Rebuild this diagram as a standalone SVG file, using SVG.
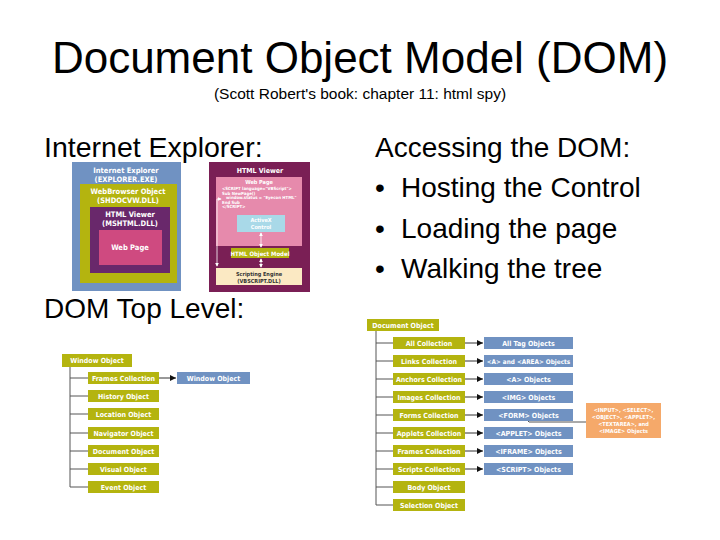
<svg xmlns="http://www.w3.org/2000/svg" width="720" height="540" viewBox="0 0 720 540">
<defs>
<style>
.t{font-family:"Liberation Sans",Arial,sans-serif;fill:#000}
.b{font-family:"DejaVu Sans Condensed","Liberation Sans Narrow","Liberation Sans",sans-serif;font-weight:bold;fill:#fff;text-anchor:middle}
.yg{fill:#b4b40f}
.bl{fill:#7092c2}
.ln{stroke:#555;stroke-width:1;fill:none}
.arr{stroke:#333;stroke-width:1;fill:none;marker-end:url(#ah)}
.wl{stroke:#fff;stroke-width:0.8;fill:none}
</style>
<marker id="ah" viewBox="0 0 6 6" refX="6" refY="3" markerWidth="6" markerHeight="6" markerUnits="userSpaceOnUse" orient="auto"><path d="M0,0 L6,3 L0,6 z" fill="#111"/></marker>
<marker id="wa" viewBox="0 0 6 6" refX="5" refY="3" markerWidth="4" markerHeight="4" markerUnits="userSpaceOnUse" orient="auto-start-reverse"><path d="M0,0 L6,3 L0,6 z" fill="#fff"/></marker>
</defs>
<rect width="720" height="540" fill="#fff"/>

<g id="titles">
<text class="t" x="360" y="73" font-size="44" text-anchor="middle">Document Object Model (DOM)</text>
<text class="t" x="360" y="99" font-size="15.5" text-anchor="middle">(Scott Robert's book: chapter 11: html spy)</text>
<text class="t" x="44" y="157" font-size="28.5">Internet Explorer:</text>
<text class="t" x="44" y="318" font-size="28">DOM Top Level:</text>
<text class="t" x="375" y="157" font-size="28">Accessing the DOM:</text>
<text class="t" x="375" y="197" font-size="28">•</text><text class="t" x="401" y="197" font-size="28">Hosting the Control</text>
<text class="t" x="375" y="238" font-size="28">•</text><text class="t" x="401" y="238" font-size="28">Loading the page</text>
<text class="t" x="375" y="278" font-size="28">•</text><text class="t" x="401" y="278" font-size="28">Walking the tree</text>
</g>

<g id="ie-nested">
<rect x="72" y="162" width="109" height="129" fill="#7092c2"/>
<text class="b" x="126" y="173" font-size="7.5">Internet Explorer</text>
<text class="b" x="126" y="182" font-size="7.5">(EXPLORER.EXE)</text>
<rect x="80" y="184" width="97" height="99" fill="#b4b40f"/>
<text class="b" x="128" y="194" font-size="7.5">WebBrowser Object</text>
<text class="b" x="128" y="203" font-size="7.5">(SHDOCVW.DLL)</text>
<rect x="90" y="207" width="80" height="66" fill="#69286b"/>
<text class="b" x="130" y="217" font-size="7.5">HTML Viewer</text>
<text class="b" x="130" y="226" font-size="7.5">(MSHTML.DLL)</text>
<rect x="99" y="230" width="63" height="35" fill="#cf4a80"/>
<text class="b" x="130" y="250" font-size="7.5">Web Page</text>
</g>

<g id="ie-viewer">
<rect x="209" y="162" width="101" height="130" fill="#7a1f55"/>
<text class="b" x="260" y="173" font-size="7">HTML Viewer</text>
<rect x="216" y="177" width="86" height="69" fill="#e68aac"/>
<text class="b" x="259" y="184" font-size="5.5">Web Page</text>
<g font-family="'DejaVu Sans Condensed','Liberation Sans',sans-serif" font-weight="bold" font-size="4.3" fill="#fff">
<text x="222" y="190">&lt;SCRIPT language="VBScript"&gt;</text>
<text x="222" y="194.5">Sub NewPage()</text>
<text x="226" y="199">window.status = "Eyecon HTML"</text>
<text x="222" y="203.5">End Sub</text>
<text x="222" y="208">&lt;/SCRIPT&gt;</text>
</g>
<rect x="237" y="215" width="48" height="17" fill="#a9d9e8"/>
<text class="b" x="261" y="222" font-size="5.5">ActiveX</text>
<text class="b" x="261" y="229" font-size="5.5">Control</text>
<rect x="231" y="248" width="58" height="10" fill="#b4b40f"/>
<text class="b" x="260" y="255.5" font-size="6">HTML Object Model</text>
<rect x="216" y="268" width="86" height="17" fill="#fbe9c3"/>
<text class="b" x="259" y="275.5" font-size="5.5" style="fill:#333">Scripting Engine</text>
<text class="b" x="259" y="282.5" font-size="5.5" style="fill:#333">(VBSCRIPT.DLL)</text>
<line class="wl" x1="261" y1="233" x2="261" y2="247" marker-start="url(#wa)" marker-end="url(#wa)"/>
<line class="wl" x1="261" y1="259" x2="261" y2="267" marker-start="url(#wa)" marker-end="url(#wa)"/>
<path class="wl" d="M221,199 L217,199 L217,266" marker-start="url(#wa)" marker-end="url(#wa)"/>
</g>

<g id="connectors">
<line class="ln" x1="70" y1="367" x2="70" y2="487"/>
<path class="ln" d="M70,378H88 M70,396H88 M70,414H88 M70,433H88 M70,451H88 M70,469H88 M70,487H88"/>
<line class="arr" x1="159" y1="378" x2="176" y2="378"/>
<line class="ln" x1="376" y1="331" x2="376" y2="505"/>
<path class="ln" d="M376,343H393 M376,361H393 M376,379H393 M376,397H393 M376,415H393 M376,433H393 M376,451H393 M376,469H393 M376,487H393 M376,505H393"/>
<line class="arr" x1="465" y1="343" x2="483" y2="343"/>
<line class="arr" x1="465" y1="361" x2="483" y2="361"/>
<line class="arr" x1="465" y1="379" x2="483" y2="379"/>
<line class="arr" x1="465" y1="397" x2="483" y2="397"/>
<line class="arr" x1="465" y1="415" x2="483" y2="415"/>
<line class="arr" x1="465" y1="433" x2="483" y2="433"/>
<line class="arr" x1="465" y1="451" x2="483" y2="451"/>
<line class="arr" x1="465" y1="469" x2="483" y2="469"/>
<polyline class="ln" points="527,420 529,422 586,422"/>
</g>

<g id="left-tree" font-size="7">
<g id="window-object"><rect class="yg" x="62" y="354" width="70" height="13"/><text class="b" x="97" y="363">Window Object</text></g>
<g id="frames-collection"><rect class="yg" x="88" y="372" width="71" height="12"/><text class="b" x="123.5" y="380.5">Frames Collection</text></g>
<g id="history-object"><rect class="yg" x="88" y="390" width="71" height="12"/><text class="b" x="123.5" y="398.5">History Object</text></g>
<g id="location-object"><rect class="yg" x="88" y="408" width="71" height="12"/><text class="b" x="123.5" y="416.5">Location Object</text></g>
<g id="navigator-object"><rect class="yg" x="88" y="427" width="71" height="12"/><text class="b" x="123.5" y="435.5">Navigator Object</text></g>
<g id="document-object-l"><rect class="yg" x="88" y="445" width="71" height="12"/><text class="b" x="123.5" y="453.5">Document Object</text></g>
<g id="visual-object"><rect class="yg" x="88" y="463" width="71" height="12"/><text class="b" x="123.5" y="471.5">Visual Object</text></g>
<g id="event-object"><rect class="yg" x="88" y="481" width="71" height="12"/><text class="b" x="123.5" y="489.5">Event Object</text></g>
<g id="window-object-2"><rect class="bl" x="177" y="372" width="73" height="12"/><text class="b" x="213.5" y="380.5">Window Object</text></g>
</g>

<g id="right-tree" font-size="7">
<g id="document-object"><rect class="yg" x="367" y="319" width="72" height="12"/><text class="b" x="403" y="327.5">Document Object</text></g>
<g id="all-collection"><rect class="yg" x="393" y="337" width="72" height="12"/><text class="b" x="429" y="345.5">All Collection</text></g>
<g id="links-collection"><rect class="yg" x="393" y="355" width="72" height="12"/><text class="b" x="429" y="363.5">Links Collection</text></g>
<g id="anchors-collection"><rect class="yg" x="393" y="373" width="72" height="12"/><text class="b" x="429" y="381.5">Anchors Collection</text></g>
<g id="images-collection"><rect class="yg" x="393" y="391" width="72" height="12"/><text class="b" x="429" y="399.5">Images Collection</text></g>
<g id="forms-collection"><rect class="yg" x="393" y="409" width="72" height="12"/><text class="b" x="429" y="417.5">Forms Collection</text></g>
<g id="applets-collection"><rect class="yg" x="393" y="427" width="72" height="12"/><text class="b" x="429" y="435.5">Applets Collection</text></g>
<g id="frames-collection-r"><rect class="yg" x="393" y="445" width="72" height="12"/><text class="b" x="429" y="453.5">Frames Collection</text></g>
<g id="scripts-collection"><rect class="yg" x="393" y="463" width="72" height="12"/><text class="b" x="429" y="471.5">Scripts Collection</text></g>
<g id="body-object"><rect class="yg" x="393" y="481" width="72" height="12"/><text class="b" x="429" y="489.5">Body Object</text></g>
<g id="selection-object"><rect class="yg" x="393" y="499" width="72" height="12"/><text class="b" x="429" y="507.5">Selection Object</text></g>
<g id="all-tag-objects"><rect class="bl" x="484" y="337" width="89" height="12"/><text class="b" x="528.5" y="345.5">All Tag Objects</text></g>
<g id="a-area-objects"><rect class="bl" x="484" y="355" width="89" height="12"/><text class="b" x="528.5" y="363.5" font-size="6.4">&lt;A&gt; and &lt;AREA&gt; Objects</text></g>
<g id="a-objects"><rect class="bl" x="484" y="373" width="89" height="12"/><text class="b" x="528.5" y="381.5">&lt;A&gt; Objects</text></g>
<g id="img-objects"><rect class="bl" x="484" y="391" width="89" height="12"/><text class="b" x="528.5" y="399.5">&lt;IMG&gt; Objects</text></g>
<g id="form-objects"><rect class="bl" x="484" y="409" width="89" height="12"/><text class="b" x="528.5" y="417.5">&lt;FORM&gt; Objects</text></g>
<g id="applet-objects"><rect class="bl" x="484" y="427" width="89" height="12"/><text class="b" x="528.5" y="435.5">&lt;APPLET&gt; Objects</text></g>
<g id="iframe-objects"><rect class="bl" x="484" y="445" width="89" height="12"/><text class="b" x="528.5" y="453.5">&lt;IFRAME&gt; Objects</text></g>
<g id="script-objects"><rect class="bl" x="484" y="463" width="89" height="12"/><text class="b" x="528.5" y="471.5">&lt;SCRIPT&gt; Objects</text></g>
<g id="input-objects" font-size="5.5"><rect x="586" y="403" width="75" height="35" fill="#f5a96a"/>
<text class="b" x="623.5" y="412">&lt;INPUT&gt;, &lt;SELECT&gt;,</text>
<text class="b" x="623.5" y="419">&lt;OBJECT&gt;, &lt;APPLET&gt;,</text>
<text class="b" x="623.5" y="426">&lt;TEXTAREA&gt;, and</text>
<text class="b" x="623.5" y="433">&lt;IMAGE&gt; Objects</text></g>
</g>
</svg>
